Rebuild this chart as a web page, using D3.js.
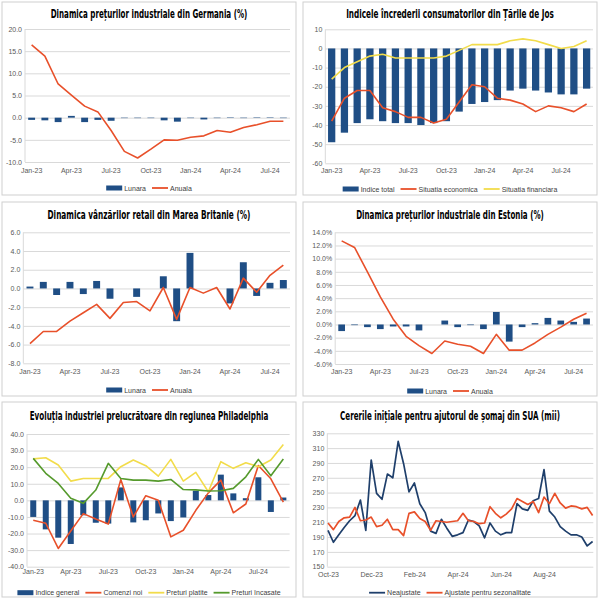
<!DOCTYPE html>
<html>
<head>
<meta charset="utf-8">
<script src="https://cdn.jsdelivr.net/npm/d3@7"></script>
<style>
body { margin: 0; background: #fff; }
</style>
</head>
<body>
<svg id="vis" width="600" height="600"></svg>
<script>
// luni (categorii)
var months20 = ["Jan-23","Feb-23","Mar-23","Apr-23","May-23","Jun-23","Jul-23","Aug-23","Sep-23","Oct-23","Nov-23","Dec-23",
                "Jan-24","Feb-24","Mar-24","Apr-24","May-24","Jun-24","Jul-24","Aug-24"];
var months21 = months20.concat(["Sep-24"]);
var monthTicks = ["Jan-23","Apr-23","Jul-23","Oct-23","Jan-24","Apr-24","Jul-24"];

// Germania - preturi industriale (%)
var deLunara = [-0.5,-0.6,-1.0,0.4,-1.0,-0.5,-0.7,-0.1,-0.1,-0.1,-0.6,-0.9,-0.1,-0.4,-0.1,0.1,-0.1,0.1,0.1,-0.1];
var deAnuala = [16.4,13.9,7.6,5.1,2.6,1.3,-2.9,-7.6,-9.1,-7.1,-5.0,-5.1,-4.4,-4.1,-2.9,-3.3,-2.2,-1.6,-0.8,-0.8];

// Tarile de Jos - incredere consumatori
var nlTotal = [-49,-44,-39,-37,-38,-39,-39,-40,-39,-38,-33,-29,-28,-27,-22,-21,-22,-23,-24,-24,-21];
var nlEconomica = [-38,-26,-22,-22,-31,-33,-36,-36,-39,-37,-28,-19,-20,-26,-27,-29,-33,-30,-31,-33,-29];
var nlFinanciara = [-16,-10,-7,-4,-3,-5,-5,-5,-5,-4,-1,2,2,2,4,5,4,2,0,1,4];

// Marea Britanie - vanzari retail (%)
var ukLunara = [0.2,0.7,-0.7,0.7,-0.6,0.8,-1.1,0,-0.9,0,1.3,-3.5,3.8,0,0,-1.6,2.8,-0.8,0.6,0.9];
var ukAnuala = [-5.9,-4.6,-4.6,-3.5,-2.6,-1.7,-3.2,-1.5,-1.4,-2.4,0.1,-3.3,0.1,-0.5,0.1,-2.2,1.1,-0.4,1.4,2.5];

// Estonia - preturi industriale (%)
var eeLunara = [-1.0,-0.1,-0.4,-0.7,-0.3,-0.3,-0.9,0,0.6,-0.4,-0.1,-0.7,1.9,-2.6,-0.4,0.2,1.0,0.6,0.4,0.9];
var eeAnuala = [12.7,11.7,8.0,4.2,0.8,-1.8,-3.2,-4.4,-2.5,-3.0,-3.3,-4.4,-1.5,-3.9,-3.9,-2.8,-1.5,-0.4,0.8,1.7];

// Philadelphia - industria prelucratoare
var phIndice = [-10,-17.5,-22.5,-26.3,-9,-13.5,-14,7.8,-13.3,-12,-7.9,-12.5,-10.3,5.8,3.2,15.5,4.2,1.3,13.9,-7,1.7];
var phComenzi = [-12,-13.8,-29,-18.5,-8,-11.3,-14.3,12.5,-10,2.8,0,-22,-18,-6,4.5,12.2,-7.5,-2.2,21,13,-1];
var phPlatite = [25,25.7,21.3,11.6,13.2,13.2,13.2,20.3,24.3,20.9,14.6,24.7,11.6,16.9,5.2,23.3,19.3,22.7,20.3,24.3,33.7];
var phIncasate = [25.3,16.3,10.2,1.2,-1.8,6.2,22.3,13.2,12.2,12.2,11.6,12.6,6.5,6.3,5.6,5.8,7.2,14.2,24.7,14.8,24.9];

// SUA - cereri initiale somaj (mii), saptamanal
var weekTicks = ["Oct-23","Dec-23","Feb-24","Apr-24","Jun-24","Aug-24"];
var weekTickIdx = [0,8,16,24,32,40];
var usNeajustate = [199,183,193,203,212,219,240,199,294,249,241,275,270,319,289,251,263,235,223,198,
                    195,214,202,191,193,196,213,211,205,189,209,198,193,196,196,235,228,226,239,242,
                    281,225,217,204,198,193,193,190,178,184];
var usAjustate = [209,200,211,216,217,230,212,213,217,204,206,214,200,200,192,222,224,215,211,199,
                  212,211,210,211,212,222,212,211,208,209,231,222,216,221,228,242,238,234,238,223,
                  244,235,249,236,229,232,231,228,230,219];

var NAVY = "#1f4e85", RED = "#e8502a", YEL = "#f2dc4b", GRN = "#559a2c", DARK = "#1f3f6b";

var svg = d3.select("#vis");

function drawPanel(p) {
    var g = svg.append("g");
    g.append("rect")
        .attr("x", p.box[0]).attr("y", p.box[1]).attr("width", p.box[2]).attr("height", p.box[3])
        .attr("fill", "#fff").attr("stroke", "#cfcfcf");

    // titlu ingustat pe orizontala ca in original
    var title = g.append("text")
        .attr("x", 0).attr("y", 0)
        .attr("text-anchor", "middle")
        .attr("font-family", "'Liberation Sans Narrow','DejaVu Sans Condensed',sans-serif")
        .attr("font-weight", "bold").attr("font-size", 11.5)
        .text(p.title);
    var w = title.node().getComputedTextLength();
    var sx = Math.min(1, p.titleW / w);
    title.attr("transform", "translate(" + (p.box[0] + p.box[2] / 2) + "," + p.titleY + ") scale(" + sx + ",1)");

    var y = d3.scaleLinear().domain(p.yDomain).range([p.bottom, p.top]);
    var ya = g.append("g")
        .attr("transform", "translate(" + p.left + ",0)")
        .call(d3.axisLeft(y).tickValues(p.yTicks).tickSize(-(p.right - p.left)).tickPadding(3).tickFormat(p.yFmt));
    ya.select(".domain").remove();
    ya.selectAll("line").attr("stroke", "#d9d9d9");
    ya.selectAll("text").attr("fill", "#595959").attr("font-size", 7).attr("font-family", "'Liberation Sans',Arial,sans-serif");

    g.append("line")
        .attr("x1", p.left).attr("x2", p.left).attr("y1", p.top).attr("y2", p.bottom)
        .attr("stroke", "#d9d9d9");

    var x, cx, xa;
    if (p.point) {
        x = d3.scalePoint().domain(d3.range(p.n)).range([p.x0, p.x1]);
        cx = function(i) { return x(i); };
        xa = d3.axisBottom(x).tickValues(weekTickIdx).tickFormat(function(d, i) { return weekTicks[i]; });
    } else {
        x = d3.scaleBand().domain(p.cats).range([p.left, p.right]).paddingInner(p.pad).paddingOuter(p.pad / 2);
        cx = function(c) { return x(c) + x.bandwidth() / 2; };
        xa = d3.axisBottom(x).tickValues(monthTicks);
    }
    var xg = g.append("g")
        .attr("transform", "translate(0," + p.bottom + ")")
        .call(xa.tickSize(0).tickPadding(p.xPad));
    xg.select(".domain").remove();
    xg.selectAll("text").attr("fill", "#595959").attr("font-size", 7).attr("font-family", "'Liberation Sans',Arial,sans-serif");

    // bare
    (p.bars || []).forEach(function(s) {
        g.append("g").selectAll("rect")
            .data(s.values)
            .join("rect")
            .attr("x", function(d, i) { return x(p.cats[i]); })
            .attr("width", x.bandwidth())
            .attr("y", function(d) { return Math.min(y(0), y(d)); })
            .attr("height", function(d) { return Math.abs(y(d) - y(0)); })
            .attr("fill", s.color);
    });

    // linii
    (p.lines || []).forEach(function(s) {
        g.append("path")
            .datum(s.values)
            .attr("fill", "none")
            .attr("stroke", s.color)
            .attr("stroke-width", s.width || 1.6)
            .attr("stroke-linejoin", "round")
            .attr("d", d3.line()
                .x(function(d, i) { return p.point ? cx(i) : cx(p.cats[i]); })
                .y(function(d) { return y(d); }));
    });

    // legenda
    var lg = g.append("g");
    var pos = 0;
    p.legend.forEach(function(it) {
        if (it.type == "bar") {
            lg.append("rect").attr("x", pos).attr("y", -2.5).attr("width", 16).attr("height", 5).attr("fill", it.color);
        } else {
            lg.append("line").attr("x1", pos).attr("x2", pos + 16).attr("y1", 0).attr("y2", 0)
                .attr("stroke", it.color).attr("stroke-width", 1.8);
        }
        var t = lg.append("text").attr("x", pos + 18).attr("y", 2.5)
            .attr("font-size", 7).attr("fill", "#404040")
            .attr("font-family", "'Liberation Sans',Arial,sans-serif")
            .text(it.label);
        pos += 18 + t.node().getComputedTextLength() + 6;
    });
    pos -= 6;
    lg.attr("transform", "translate(" + (p.box[0] + p.box[2] / 2 - pos / 2) + "," + p.legendY + ")");
}

var f1 = function(d) { return d.toFixed(1); };
var f0 = function(d) { return d.toFixed(0); };
var fp = function(d) { return d.toFixed(1) + "%"; };

drawPanel({
    box: [2, 2, 294, 193], title: "Dinamica prețurilor industriale din Germania (%)", titleY: 18, titleW: 197,
    left: 25, right: 290, top: 29, bottom: 162, xPad: 6.5, pad: 0.48,
    yDomain: [-10, 20], yTicks: [-10, -5, 0, 5, 10, 15, 20], yFmt: f1, cats: months20,
    bars: [{ values: deLunara, color: NAVY }],
    lines: [{ values: deAnuala, color: RED }],
    legendY: 188,
    legend: [{ type: "bar", color: NAVY, label: "Lunara" }, { type: "line", color: RED, label: "Anuala" }]
});

drawPanel({
    box: [303, 2, 294, 193], title: "Indicele încrederii consumatorilor din Țările de Jos", titleY: 18, titleW: 208,
    left: 325.3, right: 593, top: 29.3, bottom: 163.3, xPad: 5.2, pad: 0.43,
    yDomain: [-60, 10], yTicks: [-60, -50, -40, -30, -20, -10, 0, 10], yFmt: f0, cats: months21,
    bars: [{ values: nlTotal, color: NAVY }],
    lines: [{ values: nlEconomica, color: RED }, { values: nlFinanciara, color: YEL }],
    legendY: 189,
    legend: [{ type: "bar", color: NAVY, label: "Indice total" }, { type: "line", color: RED, label: "Situatia economica" },
             { type: "line", color: YEL, label: "Situatia financiara" }]
});

drawPanel({
    box: [2, 202, 294, 194], title: "Dinamica vânzărilor retail din Marea Britanie (%)", titleY: 219, titleW: 203,
    left: 23.3, right: 290, top: 232.3, bottom: 363.3, xPad: 6.2, pad: 0.48,
    yDomain: [-8, 6], yTicks: [-8, -6, -4, -2, 0, 2, 4, 6], yFmt: f1, cats: months20,
    bars: [{ values: ukLunara, color: NAVY }],
    lines: [{ values: ukAnuala, color: RED }],
    legendY: 390,
    legend: [{ type: "bar", color: NAVY, label: "Lunara" }, { type: "line", color: RED, label: "Anuala" }]
});

drawPanel({
    box: [303, 202, 294, 194], title: "Dinamica prețurilor industriale din Estonia (%)", titleY: 219, titleW: 188,
    left: 335.2, right: 593, top: 232.3, bottom: 364, xPad: 5.5, pad: 0.48,
    yDomain: [-6, 14], yTicks: [-6, -4, -2, 0, 2, 4, 6, 8, 10, 12, 14], yFmt: fp, cats: months20,
    bars: [{ values: eeLunara, color: NAVY }],
    lines: [{ values: eeAnuala, color: RED }],
    legendY: 391,
    legend: [{ type: "bar", color: NAVY, label: "Lunara" }, { type: "line", color: RED, label: "Anuala" }]
});

drawPanel({
    box: [2, 402, 294, 195], title: "Evoluția industriei prelucrătoare din regiunea Philadelphia", titleY: 420, titleW: 239,
    left: 27, right: 289.6, top: 434, bottom: 566.7, xPad: 2.8, pad: 0.52,
    yDomain: [-40, 40], yTicks: [-40, -30, -20, -10, 0, 10, 20, 30, 40], yFmt: f1, cats: months21,
    bars: [{ values: phIndice, color: NAVY }],
    lines: [{ values: phComenzi, color: RED }, { values: phPlatite, color: YEL }, { values: phIncasate, color: GRN }],
    legendY: 592.7,
    legend: [{ type: "bar", color: NAVY, label: "Indice general" }, { type: "line", color: RED, label: "Comenzi noi" },
             { type: "line", color: YEL, label: "Preturi platite" }, { type: "line", color: GRN, label: "Preturi încasate" }]
});

drawPanel({
    box: [303, 402, 294, 195], title: "Cererile inițiale pentru ajutorul de șomaj din SUA (mii)", titleY: 420, titleW: 220,
    left: 327.3, right: 593.3, top: 433.3, bottom: 566.7, xPad: 5.8,
    point: true, n: usNeajustate.length, x0: 328, x1: 592.6,
    yDomain: [150, 330], yTicks: [150, 170, 190, 210, 230, 250, 270, 290, 310, 330], yFmt: f0,
    lines: [{ values: usNeajustate, color: DARK, width: 1.7 }, { values: usAjustate, color: RED, width: 1.7 }],
    legendY: 592.7,
    legend: [{ type: "line", color: DARK, label: "Neajustate" }, { type: "line", color: RED, label: "Ajustate pentru sezonalitate" }]
});
</script>
</body>
</html>
